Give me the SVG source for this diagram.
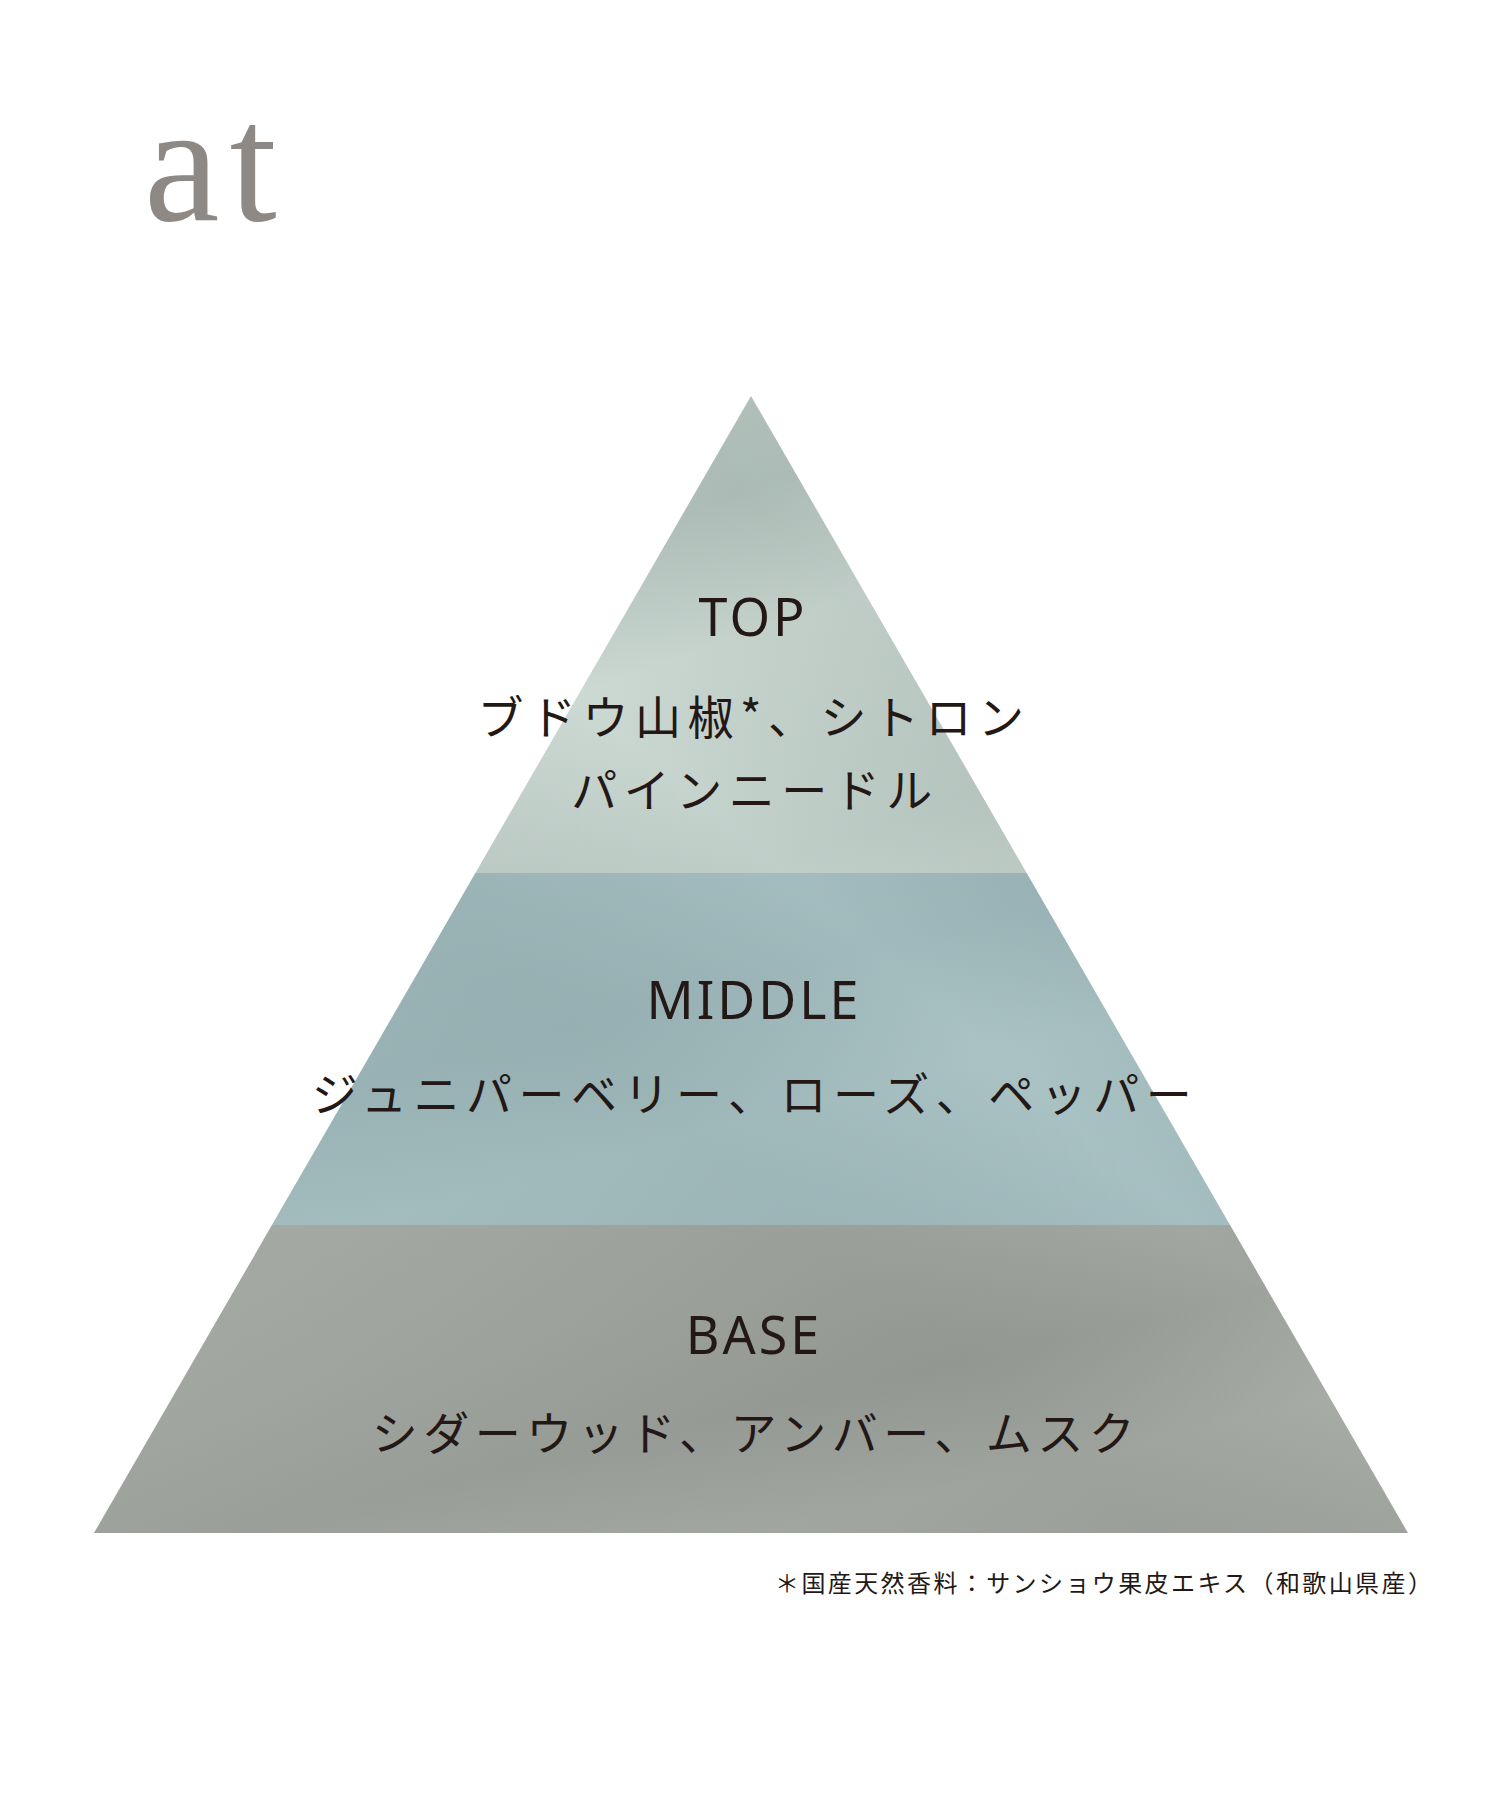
<svg xmlns="http://www.w3.org/2000/svg" width="1500" height="1800" viewBox="0 0 1500 1800">
  <defs>
    <clipPath id="tri">
      <polygon points="751,396 1408,1533 94,1533"/>
    </clipPath>
    <linearGradient id="gTop" x1="0" y1="0" x2="1" y2="1">
      <stop offset="0" stop-color="#c4d2cc"/>
      <stop offset="0.35" stop-color="#b4c4be"/>
      <stop offset="0.5" stop-color="#c9d7d1"/>
      <stop offset="0.75" stop-color="#bccbc5"/>
      <stop offset="1" stop-color="#c8d5cf"/>
    </linearGradient>
    <linearGradient id="gMid" x1="0" y1="0" x2="1" y2="1">
      <stop offset="0" stop-color="#a3bdbf"/>
      <stop offset="0.4" stop-color="#9bb6b9"/>
      <stop offset="0.6" stop-color="#a5bfc1"/>
      <stop offset="1" stop-color="#9db8bb"/>
    </linearGradient>
    <linearGradient id="gBase" x1="0" y1="0" x2="1" y2="1">
      <stop offset="0" stop-color="#a8aca6"/>
      <stop offset="0.35" stop-color="#9fa49e"/>
      <stop offset="0.55" stop-color="#989d97"/>
      <stop offset="0.75" stop-color="#a4a9a3"/>
      <stop offset="1" stop-color="#9ea39d"/>
    </linearGradient>
    <linearGradient id="shade" x1="1" y1="0" x2="0" y2="1">
      <stop offset="0" stop-color="#000" stop-opacity="0"/>
      <stop offset="0.3" stop-color="#000" stop-opacity="0.05"/>
      <stop offset="0.45" stop-color="#fff" stop-opacity="0.06"/>
      <stop offset="0.6" stop-color="#000" stop-opacity="0.04"/>
      <stop offset="1" stop-color="#fff" stop-opacity="0.03"/>
    </linearGradient>
  </defs>
  <style>
    .lbl { font-family: "Noto Sans", "Liberation Sans", sans-serif; font-size: 52px; fill: #231815; text-anchor: middle; letter-spacing: 3px; }
    .jp { font-family: "Noto Sans CJK JP", "Noto Sans", sans-serif; font-size: 46px; fill: #231815; text-anchor: middle; letter-spacing: 6.5px; }
    .jpb { letter-spacing: 5.5px; }
    .note { font-family: "Noto Sans CJK JP", "Noto Sans", sans-serif; font-size: 24px; fill: #231815; letter-spacing: 2.4px; }
    .logo { font-family: "Liberation Serif", "DejaVu Serif", serif; font-size: 170px; fill: #8e8984; letter-spacing: 10px; }
  </style>
  <rect x="0" y="0" width="1500" height="1800" fill="#ffffff"/>

  <g id="logo">
    <text class="logo" x="144" y="220">at</text>
  </g>

  <g id="pyramid" clip-path="url(#tri)">
    <rect id="band-top" x="90" y="390" width="1330" height="483" fill="url(#gTop)"/>
    <rect id="band-middle" x="90" y="873" width="1330" height="352" fill="url(#gMid)"/>
    <rect id="band-base" x="90" y="1225" width="1330" height="310" fill="url(#gBase)"/>
    <rect x="90" y="390" width="1330" height="1145" fill="url(#shade)"/>
  </g>

  <g id="top">
    <text class="lbl" x="753" y="636">TOP</text>
    <text class="jp" x="754" y="734">ブドウ山椒*、シトロン</text>
    <text class="jp" x="755" y="807">パインニードル</text>
  </g>

  <g id="middle">
    <text class="lbl" x="754" y="1019">MIDDLE</text>
    <text class="jp" x="755" y="1111">ジュニパーベリー、ローズ、ペッパー</text>
  </g>

  <g id="base">
    <text class="lbl" x="754" y="1354">BASE</text>
    <text class="jp jpb" x="756" y="1450">シダーウッド、アンバー、ムスク</text>
  </g>

  <g id="footnote">
    <text class="note" x="775" y="1592">＊国産天然香料：サンショウ果皮エキス（和歌山県産）</text>
  </g>

  <g id="connectors"></g>
</svg>
